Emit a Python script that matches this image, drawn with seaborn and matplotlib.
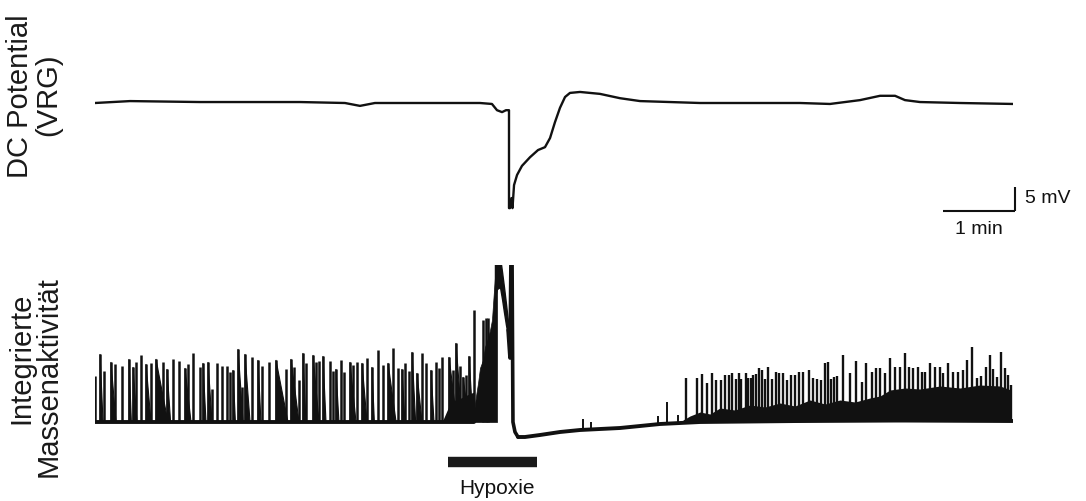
import numpy as np
import pandas as pd
import matplotlib
matplotlib.use("Agg")
import matplotlib.pyplot as plt
import seaborn as sns

# ---------------- data (time in s, DC in mV, integrated activity in a.u.) ----------------
dc_time = [0.0, 29.2, 87.5, 170.8, 208.3, 220.8, 233.3, 320.8, 330.8, 335.0, 339.2, 342.5,
           345.0, 345.0, 345.8, 347.1, 347.9, 349.2, 351.7, 355.8, 362.5, 369.2, 375.0,
           379.2, 383.3, 387.5, 391.7, 395.8, 404.2, 420.8, 437.5, 454.2, 504.2, 587.5,
           612.5, 637.5, 654.2, 666.7, 675.0, 687.5, 720.8, 765.0]
dc_mv = [0.0, 0.4, 0.2, 0.2, 0.0, -0.6, 0.0, 0.0, -0.2, -1.5, -1.9, -1.5,
         -1.5, -21.9, -21.9, -19.8, -21.9, -17.1, -15.0, -13.1, -11.3, -9.8, -9.2,
         -7.3, -4.0, -1.0, 1.25, 2.1, 2.3, 1.9, 1.0, 0.4, 0.0, 0.0,
         -0.2, 0.6, 1.5, 1.5, 0.6, 0.2, 0.0, -0.2]

# respiratory bursts before / during hypoxia
burst_time = [0.0, 4.2, 7.5, 13.3, 16.7, 22.5, 28.3, 31.7, 34.2, 38.3, 42.5, 46.7, 50.8,
              56.7, 60.0, 65.0, 70.0, 75.0, 77.5, 81.7, 87.5, 90.0, 94.2, 97.5, 101.7,
              105.8, 110.0, 112.5, 115.0, 119.2, 122.5, 125.0, 130.8, 135.8, 139.2, 145.0,
              150.8, 159.2, 163.3, 165.8, 170.0, 173.3, 175.8, 181.7, 184.2, 186.7, 190.0,
              195.8, 198.3, 200.8, 205.0, 207.5, 212.5, 215.0, 218.3, 222.5, 226.7, 230.8,
              235.8, 240.0, 244.2, 248.3, 252.5, 255.8, 258.3, 261.7, 264.2, 268.3, 272.5,
              275.8, 280.0, 284.2, 286.7, 289.2, 295.0, 298.3, 300.8, 304.2, 306.7, 309.2,
              311.7, 315.8, 323.3, 325.8, 327.5]
burst_amp = [46, 68, 51, 60, 58, 56, 63, 55, 60, 67, 58, 59, 63,
             60, 53, 63, 61, 54, 58, 69, 55, 59, 60, 33, 59,
             56, 56, 50, 52, 73, 35, 68, 65, 62, 56, 60,
             62, 53, 63, 55, 42, 69, 59, 67, 60, 61, 66,
             61, 51, 53, 62, 50, 60, 57, 60, 59, 64, 55,
             72, 57, 59, 74, 54, 53, 59, 51, 70, 49, 69,
             59, 52, 60, 54, 65, 65, 52, 79, 56, 45, 47,
             66, 112, 102, 104, 104]
burst_decay = [0, 2.5, 0, 4.2, 0, 0, 2.0, 3.3, 0, 0, 4.2, 0, 10.0,
               0, 3.0, 0, 0, 5.0, 0, 0, 0, 2.5, 3.3, 0, 0,
               0, 0, 0, 2.0, 4.2, 0, 4.2, 0, 2.5, 0, 0,
               10.0, 0, 6.7, 0, 0, 2.5, 0, 5.0, 0, 0, 2.5,
               0, 0, 2.5, 0, 0, 5.0, 0, 0, 4.2, 0, 2.0,
               0, 0, 6.7, 0, 0, 2.5, 0, 0, 3.0, 4.2, 0,
               0, 2.5, 0, 0, 0, 6.7, 0, 5.0, 0, 5.0, 0,
               3.3, 0, 0, 0, 0]

# dense activity just before hypoxic augmentation
preband_time = [289.2, 295.0, 300.0, 305.0, 310.0, 315.8]
preband_top = [0, 16, 22, 24, 27, 30]

# hypoxic augmentation: dense rising phase, thick plateau, final burst and collapse
hyp_fill_time = [315.8, 317.5, 319.2, 320.8, 323.3, 325.0, 327.5, 329.2, 330.8, 332.5, 334.2, 335.0]
hyp_fill_top = [10, 26, 39, 54, 62, 75, 84, 92, 102, 132, 160, 165]
plateau_time = [333.3, 335.0, 337.5, 339.2, 340.8, 342.5, 344.2]
plateau_upper = [160, 165, 165, 150, 135, 118, 100]
plateau_lower = [125, 133, 135, 123, 110, 97, 86]
hyp_time = [344.2, 345.8, 346.7, 347.5, 348.3, 350.0, 352.5]
hyp_value = [92, 64, 175, 175, 0, -10, -15]

# baseline before hypoxia and after
pre_time = [0.0, 315.8]
pre_value = [0, 0]
post_time = [352.5, 358.3, 370.8, 387.5, 404.2, 420.8, 437.5, 454.2, 470.8, 487.5,
             504.2, 587.5, 670.8, 765.0]
post_value = [-15, -15, -13, -10, -8, -7, -6, -4, -2, -1, 0, 1, 2, 1]

# small events during recovery
small_time = [406.7, 413.3, 469.2, 476.7, 485.8]
small_base = [-8, -7, -3, -2, -1]
small_top = [3, 0, 6, 20, 7]

# recovered bursting
rec_time = [492.5, 501.7, 505.8, 510.0, 514.2, 517.5, 521.7, 525.0, 528.3, 530.8, 534.2,
            536.7, 538.3, 542.5, 544.2, 546.7, 548.3, 550.8, 553.3, 555.8, 558.3, 560.8,
            564.2, 567.5, 570.0, 573.3, 576.7, 580.0, 583.3, 586.7, 590.0, 595.0, 598.3,
            601.7, 605.0, 608.3, 610.8, 613.3, 615.8, 618.3, 623.3, 629.2, 634.2, 639.2,
            642.5, 647.5, 650.8, 654.2, 658.3, 662.5, 666.7, 670.8, 675.0, 678.3, 681.7,
            685.8, 689.2, 691.7, 695.8, 700.0, 704.2, 706.7, 710.8, 715.0, 719.2, 723.3,
            726.7, 730.8, 735.0, 738.3, 742.5, 745.8, 748.3, 751.7, 755.0, 758.3, 760.8,
            763.3]
rec_amp = [44, 44, 48, 39, 49, 42, 42, 47, 47, 49, 43,
           49, 43, 49, 44, 44, 47, 48, 54, 52, 43, 55,
           43, 50, 49, 49, 42, 47, 47, 50, 50, 52, 44,
           43, 42, 59, 60, 43, 45, 46, 67, 49, 61, 40,
           59, 50, 54, 54, 49, 64, 55, 55, 69, 55, 54,
           55, 50, 50, 59, 55, 55, 49, 59, 50, 50, 52,
           62, 75, 44, 46, 55, 67, 53, 45, 70, 54, 47,
           37]
band_time = [490.0, 495.8, 504.2, 512.5, 520.8, 533.3, 545.8, 558.3, 570.8, 583.3, 595.8,
             608.3, 620.8, 633.3, 645.8, 654.2, 662.5, 675.0, 687.5, 704.2, 720.8, 737.5,
             754.2, 763.3]
band_top = [2, 6, 10, 8, 14, 12, 17, 15, 19, 16, 22, 18, 22, 20, 24, 26, 32, 34, 33, 36,
            34, 37, 36, 32]

hypoxia_start, hypoxia_end = 294.2, 368.3
scale_t, scale_mv = 60, 5

# ---------------- figure ----------------
sns.set_theme(style="white")
plt.rcParams['font.family'] = ['Liberation Sans', 'DejaVu Sans']
INK = '#111111'
W, H = 1086, 501
fig = plt.figure(figsize=(W / 100, H / 100), dpi=100)


def rect(x0, y0, x1, y1):
    return [x0 / W, 1 - y1 / H, (x1 - x0) / W, (y1 - y0) / H]


ax1 = fig.add_axes(rect(95, 55, 1013, 247))
ax2 = fig.add_axes(rect(95, 265, 1013, 445))
for ax in (ax1, ax2):
    ax.set_xlim(0, 765)
    ax.axis('off')
ax1.set_ylim(-30, 10)
ax2.set_ylim(-23, 157)

# DC potential trace
sns.lineplot(x=dc_time, y=dc_mv, ax=ax1, estimator=None, sort=False, color=INK, lw=1.7)

# scale bars
x_end = dc_time[-1] + 1.7
ax1.plot([x_end - scale_t, x_end], [-22.5, -22.5], color=INK, lw=1.5, clip_on=False,
         solid_capstyle='butt')
ax1.plot([x_end, x_end], [-22.5, -22.5 + scale_mv], color=INK, lw=1.5, clip_on=False,
         solid_capstyle='butt')
ax1.text(x_end + 8, -20.0, f"{scale_mv} mV", fontsize=14, color=INK, va='center', ha='left')
ax1.text(x_end - scale_t / 2, -26.3, "1 min", fontsize=14, color=INK, va='center', ha='center')

# integrated activity
sns.lineplot(x=pre_time, y=pre_value, ax=ax2, estimator=None, sort=False, color=INK, lw=2.8)
sns.lineplot(x=post_time, y=post_value, ax=ax2, estimator=None, sort=False, color=INK, lw=2.8)
ax2.fill_between(band_time, 0, band_top, color=INK, lw=0)
ax2.fill_between(preband_time, 0, preband_top, color=INK, lw=0)
ax2.vlines(burst_time, 0, burst_amp, color=INK, lw=1.8)
for t, a, d in zip(burst_time, burst_amp, burst_decay):
    if d > 0:
        ax2.fill([t, t, t + d], [0, a, 0], color=INK, lw=0.8)
ax2.vlines(rec_time, 0, rec_amp, color=INK, lw=1.7)
ax2.vlines(small_time, small_base, small_top, color=INK, lw=1.4)
ax2.fill_between(hyp_fill_time, 0, hyp_fill_top, color=INK, lw=0.5)
ax2.fill_between(plateau_time, plateau_lower, plateau_upper, color=INK, lw=1.0, edgecolor=INK)
sns.lineplot(x=hyp_time, y=hyp_value, ax=ax2, estimator=None, sort=False, color=INK, lw=2.6)

# hypoxia bar
ax2.plot([hypoxia_start, hypoxia_end], [-40, -40], color='#1a1a1a', lw=7.5,
         solid_capstyle='butt', clip_on=False)
ax2.text(335, -66, "Hypoxie", fontsize=15, color=INK, ha='center', va='center', clip_on=False)

# y labels
lab = dict(rotation=90, ha='center', va='center', fontsize=21, color='#1a1a1a')
fig.text(20 / W, 1 - 96 / H, "DC Potential", **lab)
fig.text(48 / W, 1 - 95 / H, "(VRG)", **lab)
fig.text(21 / W, 1 - 358 / H, "Integrierte", **lab)
fig.text(49 / W, 1 - 377 / H, "Massenaktivität", **lab)

fig.savefig("out.png", dpi=100)
